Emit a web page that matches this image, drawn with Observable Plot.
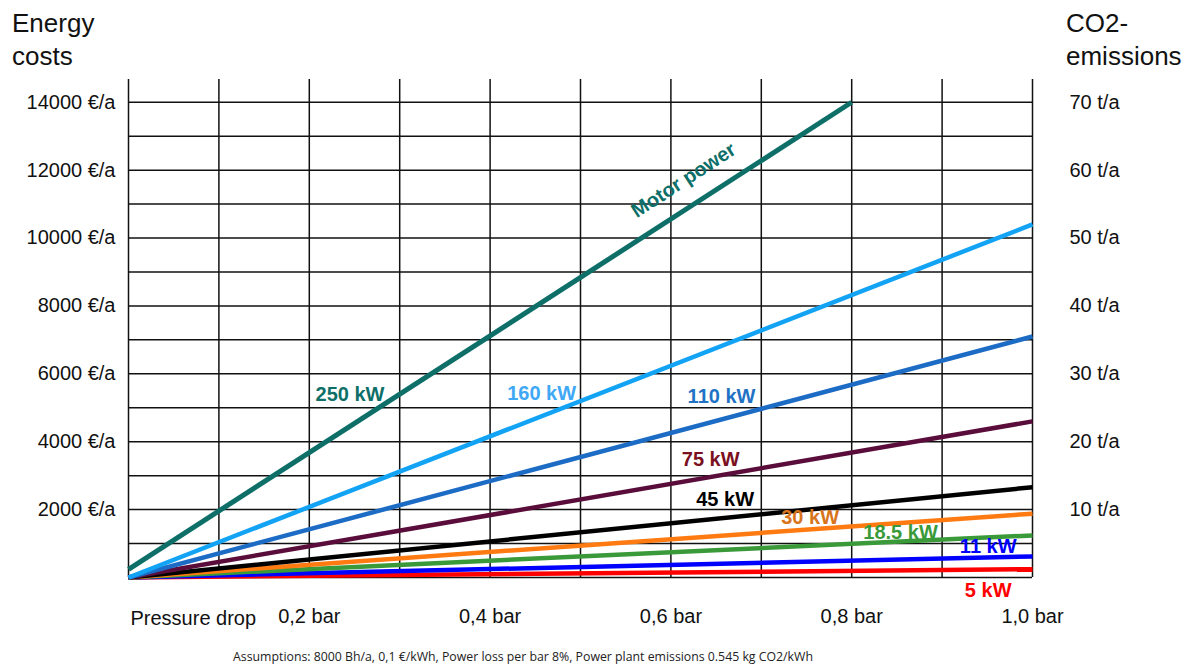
<!DOCTYPE html>
<html>
<head>
<meta charset="utf-8">
<script src="https://cdn.jsdelivr.net/npm/d3@7"></script>
<script src="https://cdn.jsdelivr.net/npm/@observablehq/plot@0.6"></script>
<style>
  html, body { margin: 0; padding: 0; background: #fff; }
  #wrap { position: relative; width: 1195px; height: 666px; font-family: "Liberation Sans", Arial, sans-serif; }
  .ttl { position: absolute; top: 7px; font-size: 26px; line-height: 33px; color: #111; }
  #cap { position: absolute; left: 0; width: 1046px; top: 648px; text-align: center; font-family: "Open Sans", "Noto Sans", sans-serif; font-size: 12.3px; color: #222; }
</style>
</head>
<body>
<div id="wrap">
  <div class="ttl" style="left:12px">Energy<br>costs</div>
  <div class="ttl" style="left:1066px">CO2-<br>emissions</div>
  <div id="cap"></div>
</div>
<script>
// ---- data ----
const series = ["250 kW", "160 kW", "110 kW", "75 kW", "45 kW", "30 kW", "18.5 kW", "11 kW", "5 kW"];
const startPressure = [0, 0, 0, 0, 0, 0, 0, 0, 0];
const startCost = [240, 0, 0, 0, 0, 0, 0, 0, 0];
const endPressure = [0.8, 1, 1, 1, 1, 1, 1, 1, 1];
const endCost = [14000, 10400, 7100, 4600, 2660, 1880, 1240, 620, 245];

const costTicks = [2000, 4000, 6000, 8000, 10000, 12000, 14000];
const co2Ticks = [10, 20, 30, 40, 50, 60, 70];      // t/a
const costPerTonne = 200;                            // €/a per t/a as drawn
const pressureTicks = [0.2, 0.4, 0.6, 0.8, 1.0];
const gridPressure = [0, 0.1, 0.2, 0.3, 0.4, 0.5, 0.6, 0.7, 0.8, 0.9, 1.0];
const gridCost = [0, 1000, 2000, 3000, 4000, 5000, 6000, 7000, 8000, 9000, 10000, 11000, 12000, 13000, 14000];

// label anchors (in data units: bar, €/a)
const labelText = ["Motor power", "250 kW", "160 kW", "110 kW", "75 kW", "45 kW", "30 kW", "18.5 kW", "11 kW", "5 kW"];
const labelPressure = [0.614, 0.245, 0.457, 0.656, 0.644, 0.660, 0.754, 0.854, 0.951, 0.951];
const labelCost = [11700, 5390, 5420, 5330, 3480, 2300, 1770, 1330, 910, -380];

const caption = "Assumptions: 8000 Bh/a, 0,1 €/kWh, Power loss per bar 8%, Power plant emissions 0.545 kg CO2/kWh";

// ---- styles ----
const lineColors = ["#0e6f69", "#13a3f5", "#1c6cc6", "#5a0d3a", "#000000", "#ff7a10", "#3a9a3a", "#0000ff", "#ff0000"];
const labelColors = ["#0e6f69", "#0e6f69", "#40a8f5", "#1f72c4", "#7a1020", "#000000", "#d8741c", "#3a9a3a", "#0000ff", "#ff0000"];

const lineRows = [];
series.forEach((s, i) => {
  lineRows.push({s, i, p: startPressure[i], c: startCost[i]});
  lineRows.push({s, i, p: endPressure[i], c: endCost[i]});
});
const drawOrder = series.map((s, i) => i).reverse();
const labels = labelText.map((t, i) => ({t, i, p: labelPressure[i], c: labelCost[i]}));

const fmtBar = d => d.toFixed(1).replace(".", ",") + " bar";

const chart = Plot.plot({
  width: 1195,
  height: 666,
  marginLeft: 128,
  marginRight: 163,
  marginTop: 79,
  marginBottom: 89,
  style: {fontFamily: "'Liberation Sans', Arial, sans-serif", fontSize: "20px", color: "#111", background: "transparent"},
  x: {domain: [0, 1]},
  y: {domain: [0, 14670]},
  marks: [
    Plot.ruleY(gridCost, {x1: 0, x2: 1, stroke: "#111", strokeWidth: 1.5, strokeOpacity: 1}),
    Plot.ruleX(gridPressure, {y1: 0, y2: 14670, stroke: "#111", strokeWidth: 1.5, strokeOpacity: 1}),
    ...drawOrder.map(i => Plot.line(lineRows.filter(r => r.i === i), {
      x: "p", y: "c", stroke: lineColors[i], strokeWidth: i === 0 ? 5 : 4.5, strokeLinecap: "butt"
    })),
    Plot.axisY(costTicks, {anchor: "left", tickSize: 0, tickPadding: 13, tickFormat: d => d + " €/a", label: null, fontSize: 20}),
    Plot.axisY(co2Ticks.map(t => t * costPerTonne), {anchor: "right", tickSize: 0, tickPadding: 37, tickFormat: d => (d / costPerTonne) + " t/a", label: null, fontSize: 20}),
    Plot.axisX(pressureTicks, {anchor: "bottom", tickSize: 0, tickPadding: 31, tickFormat: fmtBar, label: null, fontSize: 20}),
    Plot.text(["Pressure drop"], {x: () => 0, text: d => d, frameAnchor: "bottom", textAnchor: "start", dx: 2, dy: 47, fontSize: 20, fill: "#111"}),
    Plot.text(labels.filter(d => d.i > 0), {x: "p", y: "c", text: "t", fill: d => labelColors[d.i], fontWeight: "bold", fontSize: 20}),
    Plot.text(labels.filter(d => d.i === 0), {x: "p", y: "c", text: "t", fill: labelColors[0], fontWeight: "bold", fontSize: 20, rotate: -33})
  ]
});
document.getElementById("wrap").prepend(chart);
chart.style.position = "absolute";
chart.style.left = "0";
chart.style.top = "0";
document.getElementById("cap").textContent = caption;
</script>
</body>
</html>
